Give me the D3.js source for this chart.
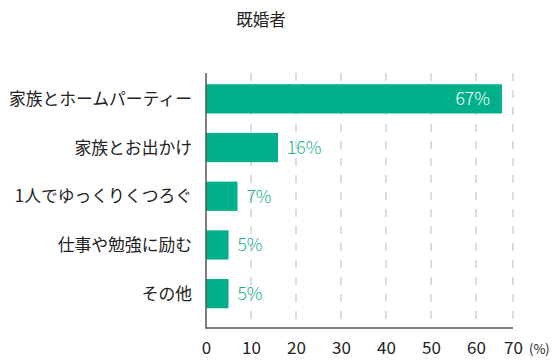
<!DOCTYPE html>
<html><head><meta charset="utf-8">
<script src="https://cdn.jsdelivr.net/npm/d3@7"></script>
<style>body{margin:0;background:#fff}svg{display:block}text{font-family:"Noto Sans CJK JP","Noto Sans",sans-serif}</style>
</head><body><svg id="c" width="560" height="363"></svg>
<script>
const title = "既婚者";
const categories = ["家族とホームパーティー","家族とお出かけ","1人でゆっくりくつろぐ","仕事や勉強に励む","その他"];
const values = [67,16,7,5,5];
const xTicks = [0,10,20,30,40,50,60,70];
const unitLabel = "(%)";

const svg = d3.select("#c");
const pLeft = 206, pRight = 513, pTop = 73, pBottom = 328;
const x = d3.scaleLinear().domain([0,60,70]).range([pLeft, pLeft+270, pRight]);
const y = d3.scaleBand().domain(categories).range([74.5, 318]).paddingInner(0.4).paddingOuter(0.2);

const barColor = "#00b08b", labelColor = "#17b092";

svg.append("text").attr("x",261).attr("y",26).attr("text-anchor","middle")
  .attr("font-size",16.5).attr("fill","#222").text(title);

// grid
svg.append("g").selectAll("line").data(xTicks.filter(d=>d>0)).join("line")
  .attr("x1",d=>x(d)).attr("x2",d=>x(d)).attr("y1",pTop).attr("y2",pBottom)
  .attr("stroke","#d2d2d2").attr("stroke-width",1.5).attr("stroke-dasharray","8,9");

// bars
svg.append("g").selectAll("rect").data(values).join("rect")
  .attr("x",x(0)).attr("y",(d,i)=>y(categories[i]))
  .attr("width",d=>x(d)-x(0)).attr("height",y.bandwidth())
  .attr("fill",barColor);

// value labels
svg.append("g").selectAll("text").data(values).join("text")
  .attr("x",(d,i)=> i===0 ? x(d)-12 : x(d)+9)
  .attr("y",(d,i)=>y(categories[i])+y.bandwidth()/2)
  .attr("dy","0.36em")
  .attr("text-anchor",(d,i)=> i===0 ? "end":"start")
  .attr("font-size",17.5).attr("font-weight",300)
  .attr("fill",(d,i)=> i===0 ? "#fff" : labelColor)
  .text(d=>d+"%");

// category labels
svg.append("g").selectAll("text").data(categories).join("text")
  .attr("x",192).attr("y",d=>y(d)+y.bandwidth()/2).attr("dy","0.36em")
  .attr("text-anchor","end").attr("font-size",16.8).attr("fill","#222").text(d=>d);

// axes lines
svg.append("line").attr("x1",pLeft).attr("x2",pLeft).attr("y1",pTop).attr("y2",pBottom+0.75)
  .attr("stroke","#555").attr("stroke-width",1.5);
svg.append("line").attr("x1",pLeft).attr("x2",pRight).attr("y1",pBottom).attr("y2",pBottom)
  .attr("stroke","#555").attr("stroke-width",1.5);

// tick labels
const xAxis = d3.axisBottom(x).tickValues(xTicks).tickSize(0).tickPadding(0);
const gx = svg.append("g").attr("transform",`translate(0,${pBottom})`).call(xAxis);
gx.select(".domain").remove();
gx.selectAll("text").attr("font-size",17).attr("fill","#222").attr("dy",0).attr("y",26)
  .attr("font-family",'"Noto Sans CJK JP","Noto Sans",sans-serif');

svg.append("text").attr("x",529).attr("y",354).attr("font-size",13).attr("fill","#222").text(unitLabel);
</script></body></html>
